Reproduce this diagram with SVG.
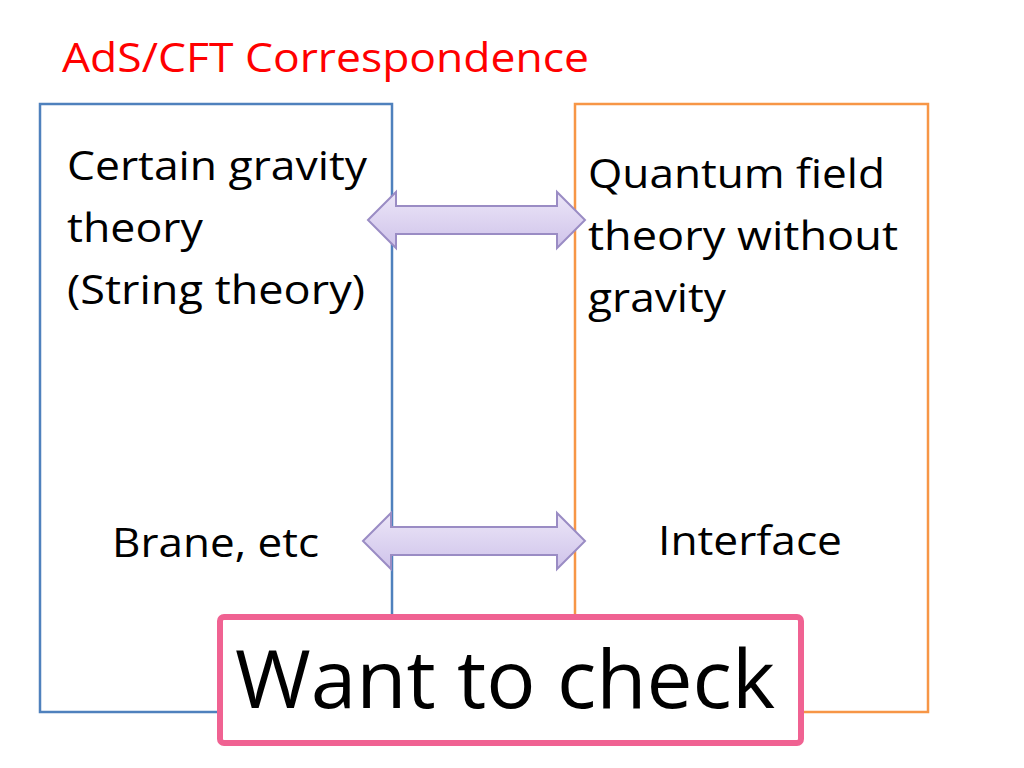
<svg xmlns="http://www.w3.org/2000/svg" width="1024" height="768" viewBox="0 0 1024 768">
<style>
text{font-family:"Open Sans",Lato,"Liberation Sans",sans-serif;fill:#000}
.t{font-size:40px}
.arr{fill:url(#g);stroke:#9a8cc4;stroke-width:2}
</style>
<defs>
<linearGradient id="g" x1="0" y1="0" x2="0" y2="1">
<stop offset="0" stop-color="#ece6f8"/><stop offset="1" stop-color="#cfc3ea"/>
</linearGradient>
</defs>
<rect width="1024" height="768" fill="#fff"/>
<text x="62" y="72" textLength="527" lengthAdjust="spacingAndGlyphs" style="font-size:40px;fill:#ff0000">AdS/CFT Correspondence</text>
<g id="gravity">
<rect x="40" y="104" width="352" height="608" fill="none" stroke="#4f81bd" stroke-width="2.5"/>
<text class="t" x="67" y="180" textLength="300" lengthAdjust="spacingAndGlyphs">Certain gravity</text>
<text class="t" x="67" y="242" textLength="136" lengthAdjust="spacingAndGlyphs">theory</text>
<text class="t" x="67" y="304" textLength="298" lengthAdjust="spacingAndGlyphs">(String theory)</text>
<text class="t" x="112" y="557" textLength="207" lengthAdjust="spacingAndGlyphs">Brane, etc</text>
</g>
<g id="qft">
<rect x="575" y="104" width="353" height="608" fill="none" stroke="#f79646" stroke-width="2.5"/>
<text class="t" x="588" y="188" textLength="297" lengthAdjust="spacingAndGlyphs">Quantum field</text>
<text class="t" x="588" y="250" textLength="310" lengthAdjust="spacingAndGlyphs">theory without</text>
<text class="t" x="588" y="312" textLength="138" lengthAdjust="spacingAndGlyphs">gravity</text>
<text class="t" x="658" y="555" textLength="184" lengthAdjust="spacingAndGlyphs">Interface</text>
</g>
<g id="connectors">
<path class="arr" d="M368,220 L396,192 L396,206 L557,206 L557,192 L585,220 L557,248 L557,234 L396,234 L396,248 Z"/>
<path class="arr" d="M363,541 L391,513 L391,527 L557,527 L557,513 L585,541 L557,569 L557,555 L391,555 L391,569 Z"/>
</g>
<g id="check">
<rect x="220" y="617" width="581" height="126" rx="4" fill="#fff" stroke="#f06292" stroke-width="6"/>
<text x="235" y="708" textLength="540" lengthAdjust="spacingAndGlyphs" style="font-size:80px">Want to check</text>
</g>
</svg>
